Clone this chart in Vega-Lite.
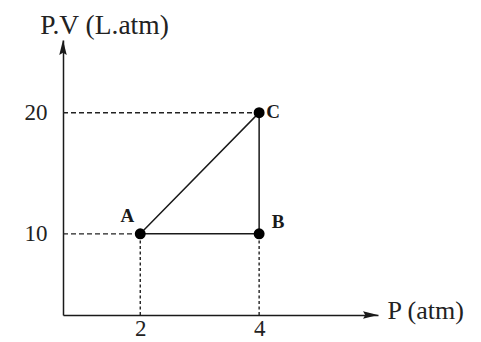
{
  "$schema": "https://vega.github.io/schema/vega-lite/v6.json",
  "width": 315,
  "height": 275,
  "autosize": {"type": "none"},
  "padding": {"left": 63, "top": 40, "right": 103, "bottom": 27},
  "background": "white",
  "config": {
    "view": {"stroke": null},
    "font": "Liberation Serif",
    "axis": {
      "domainColor": "#1a1a1a",
      "domainWidth": 1.5,
      "grid": false,
      "ticks": false,
      "labelFont": "Liberation Serif",
      "labelFontSize": 23,
      "labelColor": "#222222",
      "format": "d",
      "titleFont": "Liberation Serif",
      "titleFontSize": 26,
      "titleFontWeight": "normal",
      "titleColor": "#222222"
    }
  },
  "datasets": {
    "states": [
      {"state": "A", "P": 2, "PV": 10, "step": 0},
      {"state": "B", "P": 4, "PV": 10, "step": 1},
      {"state": "C", "P": 4, "PV": 20, "step": 2}
    ],
    "cycle": [
      {"P": 2, "PV": 10, "step": 0},
      {"P": 4, "PV": 10, "step": 1},
      {"P": 4, "PV": 20, "step": 2},
      {"P": 2, "PV": 10, "step": 3}
    ],
    "hguides": [
      {"P": 0.7, "P2": 4, "PV": 20},
      {"P": 0.7, "P2": 2, "PV": 10}
    ],
    "vguides": [
      {"P": 2, "PV": 3.3, "PV2": 10},
      {"P": 4, "PV": 3.3, "PV2": 10}
    ],
    "arrows": [
      {"dir": "up", "P": 0.7, "PV": 26},
      {"dir": "right", "P": 6, "PV": 3.3}
    ]
  },
  "layer": [
    {
      "data": {"name": "hguides"},
      "mark": {"type": "rule", "strokeDash": [5, 3], "strokeWidth": 1.4, "color": "#222222"},
      "encoding": {
        "x": {
          "field": "P", "type": "quantitative",
          "scale": {"domain": [0.7, 6], "nice": false, "zero": false},
          "axis": {
            "values": [2, 4],
            "format": "d",
            "labelPadding": 2,
            "title": "P (atm)",
            "titleAlign": "left",
            "titleBaseline": "alphabetic",
            "titleAnchor": null,
            "titleX": 324,
            "titleY": 3
          }
        },
        "x2": {"field": "P2"},
        "y": {
          "field": "PV", "type": "quantitative",
          "scale": {"domain": [3.3, 26], "nice": false, "zero": false},
          "axis": {
            "values": [10, 20],
            "format": "d",
            "labelPadding": 16,
            "title": "P.V (L.atm)",
            "titleFontSize": 27.5,
            "titleAngle": 0,
            "titleAlign": "center",
            "titleBaseline": "alphabetic",
            "titleAnchor": null,
            "titleX": 41,
            "titleY": -7
          }
        }
      }
    },
    {
      "data": {"name": "vguides"},
      "mark": {"type": "rule", "strokeDash": [3, 2.5], "strokeWidth": 1.4, "color": "#222222"},
      "encoding": {
        "x": {"field": "P", "type": "quantitative"},
        "y": {"field": "PV", "type": "quantitative"},
        "y2": {"field": "PV2"}
      }
    },
    {
      "data": {"name": "cycle"},
      "mark": {"type": "line", "strokeWidth": 1.5, "color": "#1a1a1a"},
      "encoding": {
        "x": {"field": "P", "type": "quantitative"},
        "y": {"field": "PV", "type": "quantitative"},
        "order": {"field": "step"}
      }
    },
    {
      "data": {"name": "states"},
      "mark": {"type": "point", "filled": true, "opacity": 1, "size": 120, "color": "#000000"},
      "encoding": {
        "x": {"field": "P", "type": "quantitative"},
        "y": {"field": "PV", "type": "quantitative"}
      }
    },
    {
      "data": {"name": "states"},
      "transform": [{"filter": "datum.state === 'A'"}],
      "mark": {"type": "text", "font": "Liberation Serif", "fontWeight": "bold", "fontSize": 19, "dx": -13, "dy": -18, "color": "#1a1a1a"},
      "encoding": {
        "x": {"field": "P", "type": "quantitative"},
        "y": {"field": "PV", "type": "quantitative"},
        "text": {"field": "state"}
      }
    },
    {
      "data": {"name": "states"},
      "transform": [{"filter": "datum.state === 'B'"}],
      "mark": {"type": "text", "font": "Liberation Serif", "fontWeight": "bold", "fontSize": 19, "dx": 19, "dy": -12, "color": "#1a1a1a"},
      "encoding": {
        "x": {"field": "P", "type": "quantitative"},
        "y": {"field": "PV", "type": "quantitative"},
        "text": {"field": "state"}
      }
    },
    {
      "data": {"name": "states"},
      "transform": [{"filter": "datum.state === 'C'"}],
      "mark": {"type": "text", "font": "Liberation Serif", "fontWeight": "bold", "fontSize": 19, "dx": 14, "dy": -1, "color": "#1a1a1a"},
      "encoding": {
        "x": {"field": "P", "type": "quantitative"},
        "y": {"field": "PV", "type": "quantitative"},
        "text": {"field": "state"}
      }
    },
    {
      "data": {"name": "arrows"},
      "transform": [{"filter": "datum.dir === 'up'"}],
      "mark": {"type": "point", "filled": true, "opacity": 1, "size": 225, "color": "#1a1a1a", "shape": "M0,0 L0.5,2 L0,1.7 L-0.5,2 Z"},
      "encoding": {
        "x": {"field": "P", "type": "quantitative"},
        "y": {"field": "PV", "type": "quantitative"}
      }
    },
    {
      "data": {"name": "arrows"},
      "transform": [{"filter": "datum.dir === 'right'"}],
      "mark": {"type": "point", "filled": true, "opacity": 1, "size": 225, "color": "#1a1a1a", "shape": "M0,0 L-2,-0.5 L-1.7,0 L-2,0.5 Z"},
      "encoding": {
        "x": {"field": "P", "type": "quantitative"},
        "y": {"field": "PV", "type": "quantitative"}
      }
    }
  ]
}
